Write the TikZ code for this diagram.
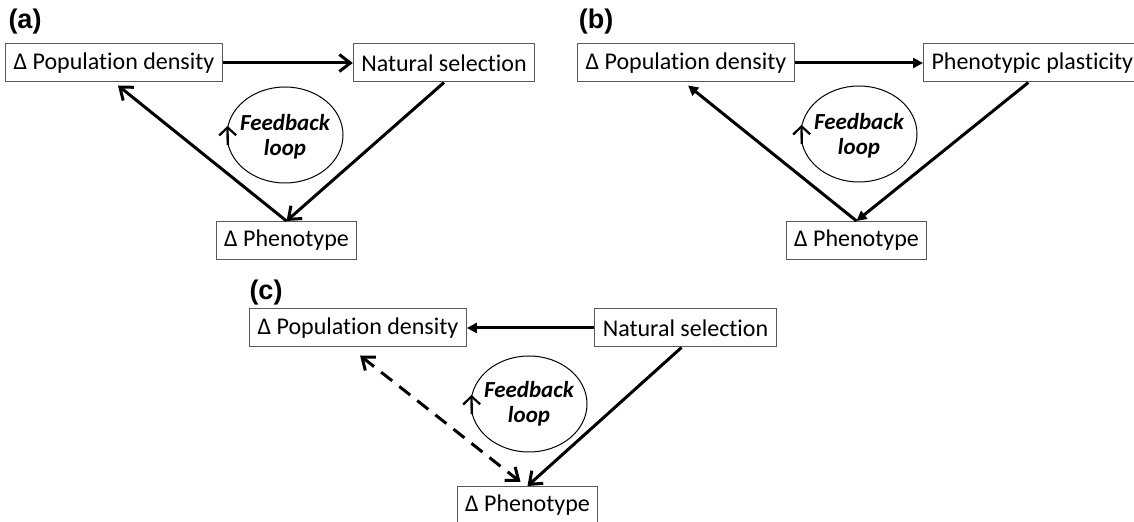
\documentclass[tikz,border=0pt]{standalone}
\usepackage{fontspec}
\setmainfont{Carlito}[Ligatures=NoCommon]
\newfontfamily\panelfont{Liberation Sans}
\usetikzlibrary{arrows.meta,shapes.geometric}

\begin{document}
\begin{tikzpicture}[x=0.5pt,y=-0.5pt,
    box/.style={draw=black!65,line width=0.5pt,minimum height=19pt,inner xsep=4pt,inner ysep=0pt,font=\fontsize{12}{14}\selectfont},
    fbloop/.style={draw,ellipse,line width=0.5pt,minimum width=58pt,minimum height=48pt,inner sep=0pt},
    fbtext/.style={inner sep=0pt,align=center,font=\fontsize{11.5}{12.5}\selectfont\bfseries\itshape},
    panel/.style={inner sep=0pt,font=\panelfont\bfseries\fontsize{13.5}{14}\selectfont},
    barb/.style={line width=1.5pt,-{Straight Barb[length=5.5pt,width=8.5pt]}},
    tri/.style={line width=1.5pt,-{Triangle[length=5pt,width=5pt]}},
    dbl/.style={line width=1.5pt,dash pattern=on 7pt off 4.5pt,{Straight Barb[length=5.5pt,width=8.5pt]}-{Straight Barb[length=5.5pt,width=8.5pt]}},
    turn/.style={line width=1.1pt,-{Straight Barb[length=4pt,width=8.5pt]}}]
  \useasboundingbox (0,0) rectangle (1134,522);
  % (a)
  \node[panel] (labA) at (25,22) {(a)};
  \node[box] (pdA) at (114,63) {Δ Population density};
  \node[box] (nsA) at (444,63) {Natural selection};
  \node[box] (phA) at (286.5,240.5) {Δ Phenotype};
  \node[fbloop] (fbA) at (285,135) {};
  \node[fbtext] (fbtA) at (285,137) {Feedback\\loop};
  \draw[barb] (pdA) -- (nsA);
  \draw[barb] (nsA.south) -- (phA.north);
  \draw[barb] (phA.north) -- ([xshift=2pt,yshift=-1.5pt]pdA.south);
  \draw[turn] (fbA.190) -- (fbA.171);
  % (b)
  \node[panel] (labB) at (596,22) {(b)};
  \node[box] (pdB) at (686,63) {Δ Population density};
  \node[box,anchor=west] (ppB) at (923,63) {Phenotypic plasticity};
  \node[box] (phB) at (856.5,240.5) {Δ Phenotype};
  \node[fbloop] (fbB) at (859,134) {};
  \node[fbtext] (fbtB) at (859,136) {Feedback\\loop};
  \draw[tri] (pdB) -- (ppB);
  \draw[tri] ([xshift=-2pt]ppB.south) -- (phB.north);
  \draw[tri] (phB.north) -- ([xshift=1pt,yshift=-1.5pt]pdB.south);
  \draw[turn] (fbB.190) -- (fbB.171);
  % (c)
  \node[panel] (labC) at (266,293) {(c)};
  \node[box] (pdC) at (358,328) {Δ Population density};
  \node[box] (nsC) at (685.5,328) {Natural selection};
  \node[box] (phC) at (527.5,505.5) {Δ Phenotype};
  \node[fbloop] (fbC) at (529,404) {};
  \node[fbtext] (fbtC) at (529,404) {Feedback\\loop};
  \draw[tri] (nsC) -- (pdC);
  \draw[barb] ([xshift=-2pt]nsC.south) -- (phC.north);
  \draw[dbl] ([xshift=1pt,yshift=-4pt]pdC.south) -- ([xshift=-3.5pt,yshift=2pt]phC.north);
  \draw[turn] (fbC.190) -- (fbC.171);
\end{tikzpicture}
\end{document}
